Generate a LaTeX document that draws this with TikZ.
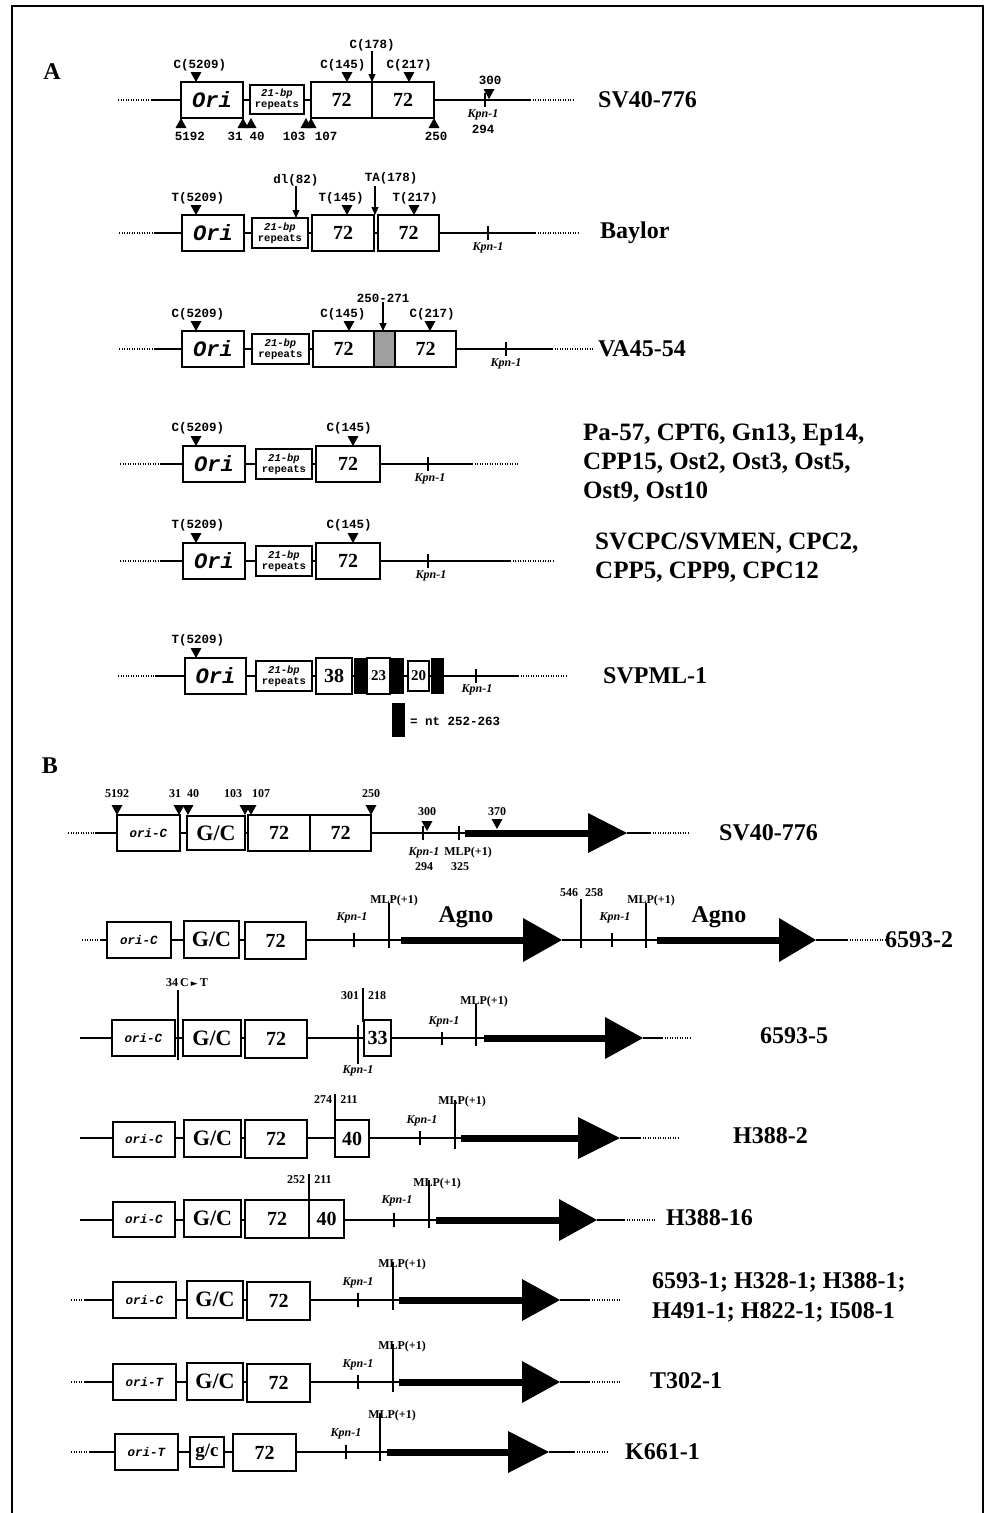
\documentclass[tikz,border=0pt]{standalone}
\usepackage{fontspec}
\setmainfont{Liberation Serif}
\setmonofont{Liberation Mono}
\newfontfamily\symf{DejaVu Sans}
\usetikzlibrary{arrows.meta}
\newcommand\bx[6]{\draw[bxs] (#2,#3) rectangle (#4,#5); \node[inner sep=0pt, align=center] (#1) at ({(#2+#4)/2},{(#3+#5)/2}) {#6};}
\newcommand\tdn[2]{\fill (#1-5.5,#2-10) -- (#1+5.5,#2-10) -- (#1,#2) -- cycle;}
\newcommand\tup[2]{\fill (#1-5.5,#2+10) -- (#1+5.5,#2+10) -- (#1,#2) -- cycle;}
\newcommand\bigarr[5]{\fill (#1,#4-3.5) rectangle (#2,#4+3.5); \fill (#2,#4-#5) -- (#3,#4) -- (#2,#4+#5) -- cycle;}
\newcommand\orit{\fontsize{22}{22}\selectfont\ttfamily\itshape\bfseries}
\newcommand\rept{{\fontsize{10.5}{10}\selectfont\ttfamily\itshape\bfseries 21-bp}\\[-1pt]{\fontsize{10.5}{10}\selectfont\ttfamily\bfseries repeats}}
\newcommand\sev{\fontsize{20}{20}\selectfont\bfseries}
\newcommand\sml{\fontsize{15}{15}\selectfont\bfseries}
\newcommand\gc{\fontsize{22}{22}\selectfont\bfseries}
\newcommand\oric{\fontsize{12.5}{12}\selectfont\ttfamily\itshape\bfseries}
\begin{document}
\begin{tikzpicture}[x=1pt,y=-1pt,
 ln/.style={line width=1.6pt},
 dt/.style={line width=1.2pt, dash pattern=on 1pt off 1.5pt},
 bxs/.style={draw, line width=1.5pt, fill=white},
 tk/.style={line width=1.1pt},
 arr/.style={line width=1.1pt, -{Triangle[length=8pt,width=7pt]}},
 mt/.style={font=\fontsize{12.5}{13}\selectfont\ttfamily\bfseries, inner sep=0pt},
 rl/.style={font=\fontsize{24}{29}\selectfont\bfseries, anchor=west, inner sep=0pt, align=left},
 kp/.style={font=\fontsize{12}{12}\selectfont\bfseries\itshape, inner sep=0pt},
 bn/.style={font=\fontsize{12}{12}\selectfont\bfseries, inner sep=0pt},
 ag/.style={font=\fontsize{24}{24}\selectfont\bfseries, inner sep=0pt}]
\useasboundingbox (0,0) rectangle (989,1513);
\fill[white] (0,0) rectangle (989,1513);
\draw[line width=1.5pt] (12,1513) -- (12,6) -- (983,6) -- (983,1513);
\draw[line width=2.5pt] (12,6) -- (983,6);
\node[font=\fontsize{24}{24}\selectfont\bfseries] (pA) at (52,72) {A};
\node[font=\fontsize{24}{24}\selectfont\bfseries] (pB) at (50,766) {B};

% ---------- A1 ----------
\draw[dt] (118,100) -- (152,100); \draw[ln] (152,100) -- (530,100); \draw[dt] (530,100) -- (575,100);
\bx{a1ori}{181}{82}{243}{118}{\orit Ori}
\bx{a1rep}{250}{85}{304}{114}{\rept}
\bx{a1s1}{311}{82}{372}{118}{\sev 72}
\bx{a1s2}{372}{82}{434}{118}{\sev 72}
\coordinate (a1j) at (372,82);
\node[mt] (a1c5209) at (200,65) {C(5209)}; \tdn{196}{82}
\node[mt] (a1c145) at (343,65) {C(145)}; \tdn{347}{82}
\node[mt] (a1c178) at (372,45) {C(178)}; \draw[arr] (a1c178.south) -- (a1j);
\node[mt] (a1c217) at (409,65) {C(217)}; \tdn{409}{82}
\node[mt] (a1n300) at (490,80) {300}; \tdn{489}{99}
\draw[tk] (485,93) -- (485,107);
\node[kp] (a1kpn) at (483,115) {Kpn-1};
\node[mt] (a1n294) at (483,129) {294};
\tup{181}{118} \node[mt] (a1n5192) at (190,136) {5192};
\tup{243}{118} \tup{251}{118}
\node[mt] (a1n31) at (235,136) {31}; \node[mt] (a1n40) at (257,136) {40};
\tup{306}{118} \tup{311}{118}
\node[mt] (a1n103) at (294,136) {103}; \node[mt] (a1n107) at (326,136) {107};
\tup{434}{118} \node[mt] (a1n250) at (436,136) {250};
\node[rl] (a1lab) at (598,100) {SV40-776};

% ---------- A2 ----------
\draw[dt] (119,233) -- (155,233); \draw[ln] (155,233) -- (535,233); \draw[dt] (535,233) -- (579,233);
\bx{a2ori}{182}{215}{244}{251}{\orit Ori}
\bx{a2rep}{252}{218}{308}{248}{\rept}
\bx{a2s1}{312}{215}{374}{251}{\sev 72}
\bx{a2s2}{378}{215}{439}{251}{\sev 72}
\node[mt] (a2t5209) at (198,198) {T(5209)}; \tdn{196}{215}
\node[mt] (a2dl) at (296,180) {dl(82)}; \draw[arr] (a2dl.south) -- (296,218);
\node[mt] (a2t145) at (341,198) {T(145)}; \tdn{347}{215}
\node[mt] (a2ta) at (391,178) {TA(178)}; \draw[arr] (375,186) -- (375,215);
\node[mt] (a2t217) at (415,198) {T(217)}; \tdn{414}{215}
\draw[tk] (488,226) -- (488,240); \node[kp] (a2kpn) at (488,248) {Kpn-1};
\node[rl] (a2lab) at (600,233) {Baylor};

% ---------- A3 ----------
\draw[dt] (119,349) -- (155,349); \draw[ln] (155,349) -- (552,349); \draw[dt] (552,349) -- (594,349);
\bx{a3ori}{182}{331}{244}{367}{\orit Ori}
\bx{a3rep}{252}{334}{309}{364}{\rept}
\bx{a3s1}{313}{331}{374}{367}{\sev 72}
\draw[bxs, fill=gray!75] (374,331) rectangle (395,367);
\bx{a3s2}{395}{331}{456}{367}{\sev 72}
\node[mt] (a3del) at (383,298) {250-271}; \draw[arr] (a3del.south) -- (383,331);
\node[mt] (a3c5209) at (198,314) {C(5209)}; \tdn{196}{331}
\node[mt] (a3c145) at (343,314) {C(145)}; \tdn{349}{331}
\node[mt] (a3c217) at (432,314) {C(217)}; \tdn{430}{331}
\draw[tk] (506,342) -- (506,356); \node[kp] (a3kpn) at (506,364) {Kpn-1};
\node[rl] (a3lab) at (598,349) {VA45-54};

% ---------- A4 ----------
\draw[dt] (120,464) -- (160,464); \draw[ln] (160,464) -- (472,464); \draw[dt] (472,464) -- (518,464);
\bx{a4ori}{183}{446}{245}{482}{\orit Ori}
\bx{a4rep}{256}{449}{312}{479}{\rept}
\bx{a4s1}{316}{446}{380}{482}{\sev 72}
\node[mt] (a4c5209) at (198,428) {C(5209)}; \tdn{196}{446}
\node[mt] (a4c145) at (349,428) {C(145)}; \tdn{353}{446}
\draw[tk] (428,457) -- (428,471); \node[kp] (a4kpn) at (430,479) {Kpn-1};
\node[rl, font=\fontsize{25}{29}\selectfont\bfseries] (a4lab) at (583,463) {Pa-57, CPT6, Gn13, Ep14,\\CPP15, Ost2, Ost3, Ost5,\\Ost9, Ost10};

% ---------- A5 ----------
\draw[dt] (120,561) -- (160,561); \draw[ln] (160,561) -- (510,561); \draw[dt] (510,561) -- (555,561);
\bx{a5ori}{183}{543}{245}{579}{\orit Ori}
\bx{a5rep}{256}{546}{312}{576}{\rept}
\bx{a5s1}{316}{543}{380}{579}{\sev 72}
\node[mt] (a5t5209) at (198,525) {T(5209)}; \tdn{196}{543}
\node[mt] (a5c145) at (349,525) {C(145)}; \tdn{353}{543}
\draw[tk] (428,554) -- (428,568); \node[kp] (a5kpn) at (431,576) {Kpn-1};
\node[rl, font=\fontsize{25}{29}\selectfont\bfseries] (a5lab) at (595,558) {SVCPC/SVMEN, CPC2,\\CPP5, CPP9, CPC12};

% ---------- A6 ----------
\draw[dt] (118,676) -- (155,676); \draw[ln] (155,676) -- (518,676); \draw[dt] (518,676) -- (568,676);
\bx{a6ori}{185}{658}{246}{694}{\orit Ori}
\bx{a6rep}{256}{661}{312}{691}{\rept}
\bx{a6s1}{316}{658}{352}{694}{\sev 38}
\fill (354,658) rectangle (367,694);
\bx{a6s2}{367}{658}{390}{694}{\sml 23}
\fill (391,658) rectangle (404,694);
\bx{a6s3}{408}{661}{429}{691}{\sml 20}
\fill (431,658) rectangle (444,694);
\node[mt] (a6t5209) at (198,640) {T(5209)}; \tdn{196}{658}
\draw[tk] (476,669) -- (476,683); \node[kp] (a6kpn) at (477,690) {Kpn-1};
\node[rl] (a6lab) at (603,676) {SVPML-1};
\fill (392,703) rectangle (405,737);
\node[mt, anchor=west] (leg) at (410,721) {= nt 252-263};

% ---------- B1 ----------
\draw[dt] (68,833) -- (95,833); \draw[ln] (95,833) -- (465,833);
\bigarr{465}{588}{627}{833}{20}
\draw[ln] (627,833) -- (650,833); \draw[dt] (650,833) -- (690,833);
\bx{b1ori}{117}{815}{180}{851}{\oric ori-C}
\bx{b1gc}{187}{816}{245}{850}{\gc G/C}
\bx{b1s1}{248}{815}{310}{851}{\sev 72}
\bx{b1s2}{310}{815}{371}{851}{\sev 72}
\node[bn] (b1n5192) at (117,794) {5192}; \tdn{117}{815}
\node[bn] (b1n31) at (175,794) {31}; \node[bn] (b1n40) at (193,794) {40}; \tdn{179}{815} \tdn{188}{815}
\node[bn] (b1n103) at (233,794) {103}; \node[bn] (b1n107) at (261,794) {107}; \tdn{245}{815} \tdn{251}{815}
\node[bn] (b1n250) at (371,794) {250}; \tdn{371}{815}
\node[bn] (b1n300) at (427,812) {300}; \tdn{427}{831}
\node[bn] (b1n370) at (497,812) {370}; \tdn{497}{829}
\draw[tk] (423,826) -- (423,840); \node[kp] (b1kpn) at (424,853) {Kpn-1}; \node[bn] (b1n294) at (424,867) {294};
\draw[tk] (459,826) -- (459,840); \node[bn] (b1mlp) at (468,853) {MLP(+1)}; \node[bn] (b1n325) at (460,867) {325};
\node[rl] (b1lab) at (719,833) {SV40-776};

% ---------- B2 ----------
\draw[dt] (82,940) -- (100,940); \draw[ln] (100,940) -- (401,940);
\bigarr{401}{523}{562}{940}{22}
\draw[ln] (562,940) -- (657,940);
\bigarr{657}{779}{816}{940}{22}
\draw[ln] (816,940) -- (847,940); \draw[dt] (847,940) -- (887,940);
\bx{b2ori}{107}{922}{171}{958}{\oric ori-C}
\bx{b2gc}{184}{921}{239}{958}{\gc G/C}
\bx{b2s1}{245}{922}{306}{959}{\sev 72}
\draw[tk] (354,933) -- (354,947); \node[kp] (b2kpn1) at (352,918) {Kpn-1};
\draw[tk] (389,903) -- (389,948); \node[bn] (b2mlp1) at (394,901) {MLP(+1)};
\node[ag] (b2ag1) at (466,917) {Agno};
\draw[tk] (581,899) -- (581,948); \node[bn] (b2n546) at (569,893) {546}; \node[bn] (b2n258) at (594,893) {258};
\draw[tk] (612,933) -- (612,947); \node[kp] (b2kpn2) at (615,918) {Kpn-1};
\draw[tk] (646,903) -- (646,948); \node[bn] (b2mlp2) at (651,901) {MLP(+1)};
\node[ag] (b2ag2) at (719,917) {Agno};
\node[rl] (b2lab) at (885,940) {6593-2};

% ---------- B3 ----------
\draw[ln] (80,1038) -- (484,1038);
\bigarr{484}{605}{643}{1038}{21}
\draw[ln] (643,1038) -- (662,1038); \draw[dt] (662,1038) -- (690,1038);
\bx{b3ori}{112}{1020}{175}{1056}{\oric ori-C}
\bx{b3gc}{183}{1020}{241}{1056}{\gc G/C}
\bx{b3s1}{245}{1020}{307}{1058}{\sev 72}
\bx{b3s2}{364}{1020}{391}{1056}{\sev 33}
\draw[tk] (178,990) -- (178,1060);
\node[bn, anchor=west] (b3mut) at (166,983) {34\,C\,{\symf\fontsize{9}{9}\selectfont ►}\,T};
\draw[tk] (358,1025) -- (358,1064); \node[kp] (b3kpn1) at (358,1071) {Kpn-1};
\draw[tk] (363,988) -- (363,1022); \node[bn] (b3n301) at (350,996) {301}; \node[bn] (b3n218) at (377,996) {218};
\draw[tk] (442,1032) -- (442,1045); \node[kp] (b3kpn2) at (444,1022) {Kpn-1};
\draw[tk] (476,1004) -- (476,1046); \node[bn] (b3mlp) at (484,1002) {MLP(+1)};
\node[rl] (b3lab) at (760,1036) {6593-5};

% ---------- B4 ----------
\draw[ln] (80,1138) -- (461,1138);
\bigarr{461}{578}{620}{1138}{21}
\draw[ln] (620,1138) -- (640,1138); \draw[dt] (640,1138) -- (680,1138);
\bx{b4ori}{113}{1122}{175}{1157}{\oric ori-C}
\bx{b4gc}{184}{1120}{241}{1157}{\gc G/C}
\bx{b4s1}{245}{1120}{307}{1158}{\sev 72}
\bx{b4s2}{335}{1120}{369}{1157}{\sev 40}
\draw[tk] (335,1094) -- (335,1122); \node[bn] (b4n274) at (323,1100) {274}; \node[bn] (b4n211) at (349,1100) {211};
\draw[tk] (420,1131) -- (420,1145); \node[kp] (b4kpn) at (422,1121) {Kpn-1};
\draw[tk] (455,1100) -- (455,1149); \node[bn] (b4mlp) at (462,1102) {MLP(+1)};
\node[rl] (b4lab) at (733,1136) {H388-2};

% ---------- B5 ----------
\draw[ln] (80,1220) -- (436,1220);
\bigarr{436}{559}{597}{1220}{21}
\draw[ln] (597,1220) -- (624,1220); \draw[dt] (624,1220) -- (655,1220);
\bx{b5ori}{113}{1202}{175}{1237}{\oric ori-C}
\bx{b5gc}{184}{1200}{241}{1237}{\gc G/C}
\bx{b5s1}{245}{1200}{309}{1238}{\sev 72}
\bx{b5s2}{309}{1200}{344}{1238}{\sev 40}
\draw[tk] (309,1174) -- (309,1200); \node[bn] (b5n252) at (296,1180) {252}; \node[bn] (b5n211) at (323,1180) {211};
\draw[tk] (394,1213) -- (394,1227); \node[kp] (b5kpn) at (397,1201) {Kpn-1};
\draw[tk] (429,1180) -- (429,1228); \node[bn] (b5mlp) at (437,1184) {MLP(+1)};
\node[rl] (b5lab) at (666,1218) {H388-16};

% ---------- B6 ----------
\draw[dt] (71,1300) -- (85,1300); \draw[ln] (85,1300) -- (399,1300);
\bigarr{399}{522}{560}{1300}{21}
\draw[ln] (560,1300) -- (589,1300); \draw[dt] (589,1300) -- (620,1300);
\bx{b6ori}{113}{1282}{176}{1318}{\oric ori-C}
\bx{b6gc}{187}{1281}{243}{1318}{\gc G/C}
\bx{b6s1}{247}{1282}{310}{1320}{\sev 72}
\draw[tk] (358,1293) -- (358,1307); \node[kp] (b6kpn) at (358,1283) {Kpn-1};
\draw[tk] (393,1262) -- (393,1310); \node[bn] (b6mlp) at (402,1265) {MLP(+1)};
\node[rl, font=\fontsize{24}{30}\selectfont\bfseries] (b6lab) at (652,1297) {6593-1; H328-1; H388-1;\\H491-1; H822-1; I508-1};

% ---------- B7 ----------
\draw[dt] (71,1382) -- (85,1382); \draw[ln] (85,1382) -- (399,1382);
\bigarr{399}{522}{560}{1382}{21}
\draw[ln] (560,1382) -- (589,1382); \draw[dt] (589,1382) -- (620,1382);
\bx{b7ori}{113}{1364}{176}{1400}{\oric ori-T}
\bx{b7gc}{187}{1363}{243}{1400}{\gc G/C}
\bx{b7s1}{247}{1364}{310}{1402}{\sev 72}
\draw[tk] (358,1375) -- (358,1389); \node[kp] (b7kpn) at (358,1365) {Kpn-1};
\draw[tk] (393,1344) -- (393,1392); \node[bn] (b7mlp) at (402,1347) {MLP(+1)};
\node[rl] (b7lab) at (650,1381) {T302-1};

% ---------- B8 ----------
\draw[dt] (71,1452) -- (89,1452); \draw[ln] (89,1452) -- (387,1452);
\bigarr{387}{508}{549}{1452}{21}
\draw[ln] (549,1452) -- (574,1452); \draw[dt] (574,1452) -- (608,1452);
\bx{b8ori}{115}{1434}{178}{1470}{\oric ori-T}
\bx{b8gc}{190}{1437}{224}{1467}{\fontsize{19}{19}\selectfont\bfseries g/c}
\bx{b8s1}{233}{1434}{296}{1471}{\sev 72}
\draw[tk] (346,1445) -- (346,1459); \node[kp] (b8kpn) at (346,1434) {Kpn-1};
\draw[tk] (380,1413) -- (380,1461); \node[bn] (b8mlp) at (392,1416) {MLP(+1)};
\node[rl] (b8lab) at (625,1452) {K661-1};
\end{tikzpicture}
\end{document}
